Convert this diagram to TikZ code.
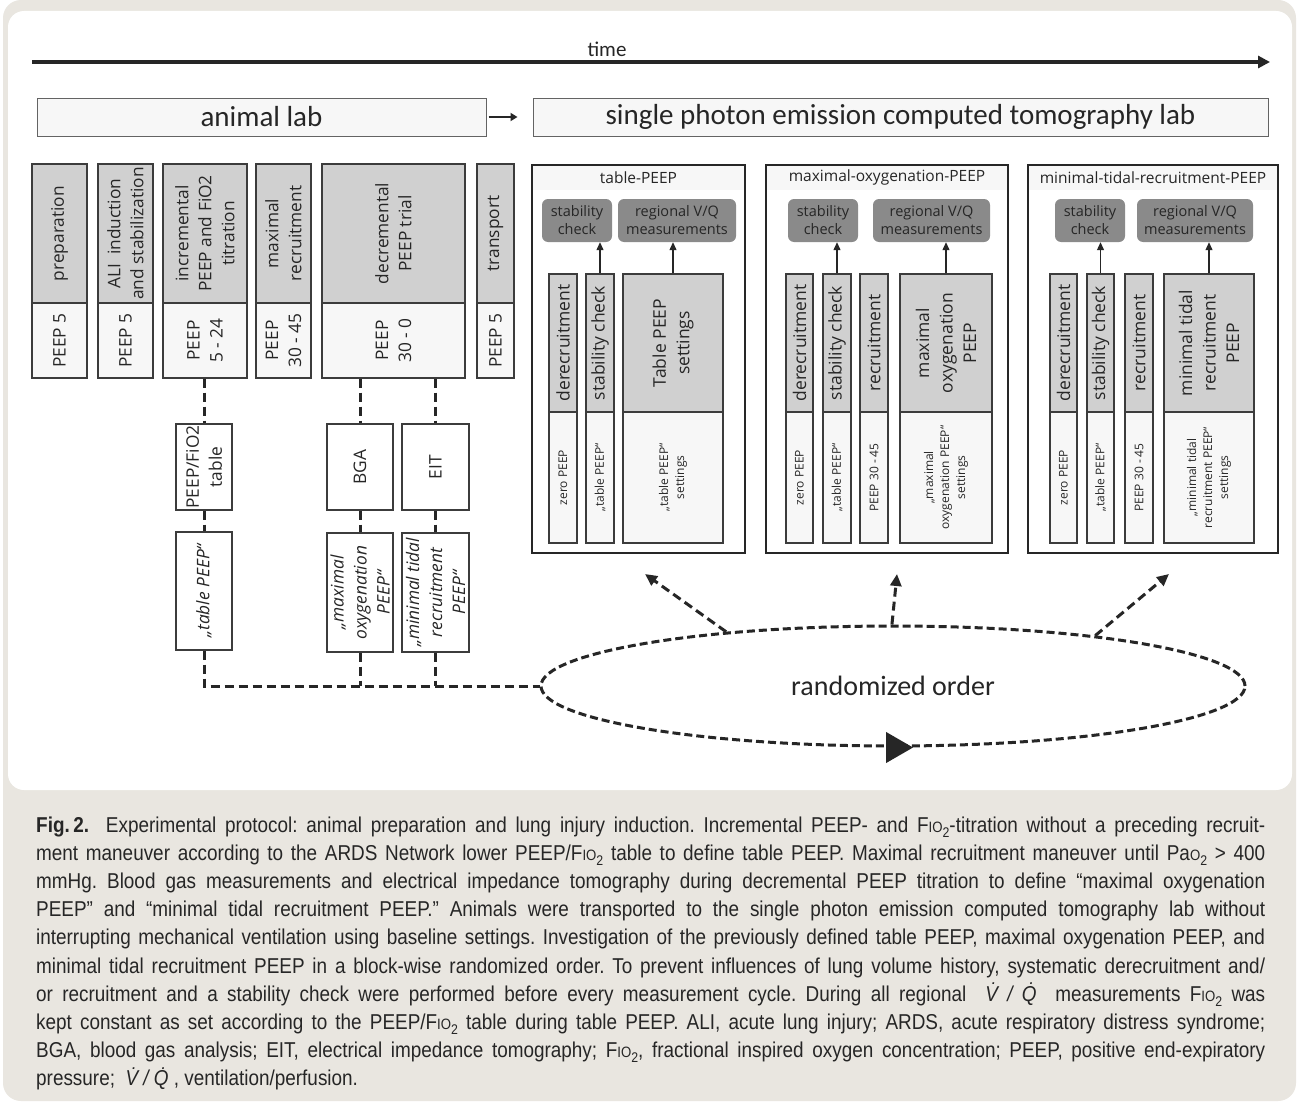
\documentclass[tikz,border=0pt]{standalone}
\usepackage{fontspec}
\usetikzlibrary{arrows.meta,shapes.geometric,calc}
\newfontfamily\osans{Open Sans}
\newfontfamily\carl{Carlito}
\newfontfamily\capf[FakeStretch=0.88]{Liberation Sans}
\newcommand\fs[2]{\fontsize{#1}{#2}\selectfont}
\newcommand\fA{\osans\fs{17.3}{23}}
\newcommand\fB{\osans\fs{17.5}{23.5}}
\newcommand\fC{\osans\fs{12}{16}}
\newcommand\subtwo{\raisebox{-5pt}{\fs{14}{14}2}}
\newcommand\fio{F{\fs{15}{15}IO}\subtwo}
\newcommand\pao{Pa{\fs{15}{15}O}\subtwo}
\newcommand\vq{{\itshape \.{V} / \.{Q}}}
\definecolor{beige}{HTML}{E9E6E0}
\definecolor{topgray}{HTML}{D0D0D0}
\definecolor{lowgray}{HTML}{F7F7F7}
\definecolor{rgray}{HTML}{8A8A8A}
\definecolor{ink}{HTML}{262626}
\definecolor{edge}{HTML}{3C3C3C}
\tikzset{
 cell/.style={draw=edge, line width=1.1pt, inner sep=0pt},
 rot/.style={rotate=90, align=center, text=ink, inner sep=0pt},
 labbox/.style={draw=edge!80, fill=lowgray, line width=1pt, inner sep=0pt, font=\carl\fs{29}{32}, text=ink},
 rbox/.style={fill=rgray, rounded corners=6pt, inner sep=0pt, align=center, font=\osans\fs{14.5}{18}, text=ink},
 panelst/.style={draw=ink, line width=1.4pt, inner sep=0pt},
 headst/.style={fill=lowgray, inner sep=0pt, font=\osans\fs{15.5}{18}, text=ink},
 dline/.style={line width=3pt, dash pattern=on 9pt off 5pt, color=ink},
 eline/.style={line width=3pt, dash pattern=on 8pt off 4pt, draw=ink},
 uparrow/.style={line width=1.2pt, color=ink, -{Triangle[length=8pt,width=7pt]}},
 capst/.style={anchor=base west, inner sep=0pt, font=\capf\fs{21.5}{24}\frenchspacing, text=ink},
}
\newcommand\cbox[8]{%
 \node[cell, fill=#6, minimum width={#4-#2}, minimum height={#5-#3}] (#1) at ({(#2+#4)/2},{(#3+#5)/2}) {};
 \node[rot, font=#7] (#1txt) at (#1.center) {#8};}
\begin{document}
\begin{tikzpicture}[x=1pt,y=-1pt]
\useasboundingbox (0,0) rectangle (1297,1108);
\fill[white] (0,0) rectangle (1297,1108);
\fill[beige, rounded corners=18pt] (3,0) rectangle (1296,1101);
\fill[white, rounded corners=16pt] (8,11) rectangle (1292,790);

% time arrow
\node[font=\carl\fs{21}{24}, text=ink] (time) at (607,49) {time};
\coordinate (tl) at (32,62);
\coordinate (tr) at (1270,62);
\draw[line width=4pt, color=ink, -{Triangle[length=12pt,width=12pt]}] (tl) -- (tr);

% labs
\node[labbox, minimum width=449, minimum height=38] (al) at (261.5,117) {animal lab};
\node[labbox, minimum width=735, minimum height=38] (sl) at (900.5,117) {single photon emission computed tomography lab};
\draw[line width=2pt, color=ink, -{Triangle[length=7pt,width=8pt]}, shorten <=2pt, shorten >=15pt] (al) -- (sl);

% animal lab columns
\cbox{c1t}{32}{164}{87}{303}{topgray}{\fA}{preparation}
\cbox{c1b}{32}{303}{87}{378}{lowgray}{\fA}{PEEP 5}
\cbox{c2t}{98}{164}{153}{303}{topgray}{\fA}{ALI~ induction\\and stabilization}
\cbox{c2b}{98}{303}{153}{378}{lowgray}{\fA}{PEEP 5}
\cbox{c3t}{163}{164}{247}{303}{topgray}{\fA}{incremental\\PEEP and FiO2\\titration}
\cbox{c3b}{163}{303}{247}{378}{lowgray}{\fA}{PEEP\\5 - 24}
\cbox{c4t}{256}{164}{311}{303}{topgray}{\fA}{maximal\\recruitment}
\cbox{c4b}{256}{303}{311}{378}{lowgray}{\fA}{PEEP\\30 - 45}
\cbox{c5t}{322}{164}{465}{303}{topgray}{\fA}{decremental\\PEEP trial}
\cbox{c5b}{322}{303}{465}{378}{lowgray}{\fA}{PEEP\\30 - 0}
\cbox{c6t}{477}{164}{514}{303}{topgray}{\fA}{transport}
\cbox{c6b}{477}{303}{514}{378}{lowgray}{\fA}{PEEP 5}

% derived boxes
\cbox{pf}{176}{424}{232}{510}{white}{\fA}{PEEP/FiO2\\table}
\cbox{tp}{176}{532}{232}{650}{white}{\fA\itshape}{„table PEEP“}
\cbox{bga}{327}{424}{393}{510}{white}{\fA}{BGA}
\cbox{eit}{402}{424}{469}{510}{white}{\fA}{EIT}
\cbox{mo}{327}{533}{393}{652}{white}{\fA\itshape}{„maximal\\oxygenation\\PEEP“}
\cbox{mt}{402}{533}{469}{652}{white}{\fA\itshape}{„minimal tidal\\recruitment\\PEEP“}

% ellipse
\node[eline, ellipse, minimum width=704, minimum height=120, inner sep=0pt, font=\carl\fs{28}{30}, text=ink] (ell) at (893,686) {randomized order};
\node[fill=ink, isosceles triangle, isosceles triangle apex angle=60, minimum height=27pt, inner sep=0pt] (tri) at ($(ell.south)+(2,0)$) {};

% dashed connectors
\draw[dline] (c3b.south -| pf.north) -- (pf.north);
\draw[dline] (pf.south) -- (tp.north);
\draw[dline] (tp.south) |- (ell.west);
\draw[dline] (c5b.south -| bga.north) -- (bga.north);
\draw[dline] (bga.south) -- (mo.north);
\draw[dline] (mo.south) -- (mo.south |- ell.west);
\draw[dline] (c5b.south -| eit.north) -- (eit.north);
\draw[dline] (eit.south) -- (mt.north);
\draw[dline] (mt.south) -- (mt.south |- ell.west);

\coordinate (a1) at (645,574);
\coordinate (a2) at (897,574);
\coordinate (a3) at (1169,574);
\draw[dline, -{Triangle[length=12pt,width=11pt]}] (ell.162) -- (a1);
\draw[dline, -{Triangle[length=12pt,width=11pt]}] (ell.91) -- (a2);
\draw[dline, -{Triangle[length=12pt,width=11pt]}] (ell.14) -- (a3);

% ---- panel 1
\node[headst, minimum width=211, minimum height=25] (h1) at (638.5,177.5) {table-PEEP};
\node[panelst, minimum width=213, minimum height=388] (p1) at (638.5,359) {};
\node[rbox, minimum width=70, minimum height=43] (sc1) at (577,220.5) {stability\\check};
\node[rbox, minimum width=118, minimum height=43] (rv1) at (677,220.5) {regional V/Q\\measurements};
\cbox{d1t}{549}{274}{577}{412}{topgray}{\fB}{derecruitment}
\cbox{d1b}{549}{412}{577}{543}{lowgray}{\fC}{zero PEEP}
\cbox{s1t}{586}{274}{614}{412}{topgray}{\fB}{stability check}
\cbox{s1b}{586}{412}{614}{543}{lowgray}{\fC}{„table PEEP“}
\cbox{t1t}{623}{274}{723}{412}{topgray}{\fB}{Table PEEP\\settings}
\cbox{t1b}{623}{412}{723}{543}{lowgray}{\fC}{„table PEEP“\\settings}
\draw[uparrow] (s1t.north) -- (s1t.north |- sc1.south);
\draw[uparrow] (t1t.north) -- (t1t.north |- rv1.south);

% ---- panel 2
\node[headst, minimum width=240, minimum height=25] (h2) at (887,177.5) {maximal-oxygenation-PEEP};
\node[panelst, minimum width=242, minimum height=388] (p2) at (887,359) {};
\node[rbox, minimum width=70, minimum height=43] (sc2) at (823,220.5) {stability\\check};
\node[rbox, minimum width=117, minimum height=43] (rv2) at (931.5,220.5) {regional V/Q\\measurements};
\cbox{d2t}{786}{274}{813}{412}{topgray}{\fB}{derecruitment}
\cbox{d2b}{786}{412}{813}{543}{lowgray}{\fC}{zero PEEP}
\cbox{s2t}{823}{274}{851}{412}{topgray}{\fB}{stability check}
\cbox{s2b}{823}{412}{851}{543}{lowgray}{\fC}{„table PEEP“}
\cbox{r2t}{860}{274}{888}{412}{topgray}{\fB}{recruitment}
\cbox{r2b}{860}{412}{888}{543}{lowgray}{\fC}{PEEP 30 - 45}
\cbox{m2t}{900}{274}{992}{412}{topgray}{\fB}{maximal\\oxygenation\\PEEP}
\cbox{m2b}{900}{412}{992}{543}{lowgray}{\fC}{„maximal\\oxygenation PEEP“\\settings}
\draw[uparrow] (s2t.north) -- (s2t.north |- sc2.south);
\draw[uparrow] (m2t.north) -- (m2t.north |- rv2.south);

% ---- panel 3
\node[headst, minimum width=248, minimum height=25] (h3) at (1153,177.5) {minimal-tidal-recruitment-PEEP};
\node[panelst, minimum width=250, minimum height=388] (p3) at (1153,359) {};
\node[rbox, minimum width=70, minimum height=43] (sc3) at (1090,220.5) {stability\\check};
\node[rbox, minimum width=116, minimum height=43] (rv3) at (1195,220.5) {regional V/Q\\measurements};
\cbox{d3t}{1050}{274}{1077}{412}{topgray}{\fB}{derecruitment}
\cbox{d3b}{1050}{412}{1077}{543}{lowgray}{\fC}{zero PEEP}
\cbox{s3t}{1087}{274}{1114}{412}{topgray}{\fB}{stability check}
\cbox{s3b}{1087}{412}{1114}{543}{lowgray}{\fC}{„table PEEP“}
\cbox{r3t}{1125}{274}{1153}{412}{topgray}{\fB}{recruitment}
\cbox{r3b}{1125}{412}{1153}{543}{lowgray}{\fC}{PEEP 30 - 45}
\cbox{m3t}{1164}{274}{1254}{412}{topgray}{\fB}{minimal tidal\\recruitment\\PEEP}
\cbox{m3b}{1164}{412}{1254}{543}{lowgray}{\fC}{„minimal tidal\\recruitment PEEP“\\settings}
\draw[uparrow] (s3t.north) -- (s3t.north |- sc3.south);
\draw[uparrow] (m3t.north) -- (m3t.north |- rv3.south);

% ---- caption
\node[capst] (cap1) at (36,832) {\makebox[1229pt][s]{\textbf{Fig.\,2.}\hspace{8pt} Experimental protocol: animal preparation and lung injury induction. Incremental PEEP- and \fio-titration without a preceding recruit-}};
\node[capst] (cap2) at (36,860.2) {\makebox[1229pt][s]{ment maneuver according to the ARDS Network lower PEEP/\fio{} table to define table PEEP. Maximal recruitment maneuver until \pao{} > 400}};
\node[capst] (cap3) at (36,888.4) {\makebox[1229pt][s]{mmHg. Blood gas measurements and electrical impedance tomography during decremental PEEP titration to define “maximal oxygenation}};
\node[capst] (cap4) at (36,916.6) {\makebox[1229pt][s]{PEEP” and “minimal tidal recruitment PEEP.” Animals were transported to the single photon emission computed tomography lab without}};
\node[capst] (cap5) at (36,944.8) {\makebox[1229pt][s]{interrupting mechanical ventilation using baseline settings. Investigation of the previously defined table PEEP, maximal oxygenation PEEP, and}};
\node[capst] (cap6) at (36,973) {\makebox[1229pt][s]{minimal tidal recruitment PEEP in a block-wise randomized order. To prevent influences of lung volume history, systematic derecruitment and/}};
\node[capst] (cap7) at (36,1001.2) {\makebox[1229pt][s]{or recruitment and a stability check were performed before every measurement cycle. During all regional \ \vq{} \ measurements \fio{} was}};
\node[capst] (cap8) at (36,1029.4) {\makebox[1229pt][s]{kept constant as set according to the PEEP/\fio{} table during table PEEP. ALI, acute lung injury; ARDS, acute respiratory distress syndrome;}};
\node[capst] (cap9) at (36,1057.6) {\makebox[1229pt][s]{BGA, blood gas analysis; EIT, electrical impedance tomography; \fio, fractional inspired oxygen concentration; PEEP, positive end-expiratory}};
\node[capst] (cap10) at (36,1085.8) {pressure; \ \vq{} , ventilation/perfusion.};
\end{tikzpicture}
\end{document}
